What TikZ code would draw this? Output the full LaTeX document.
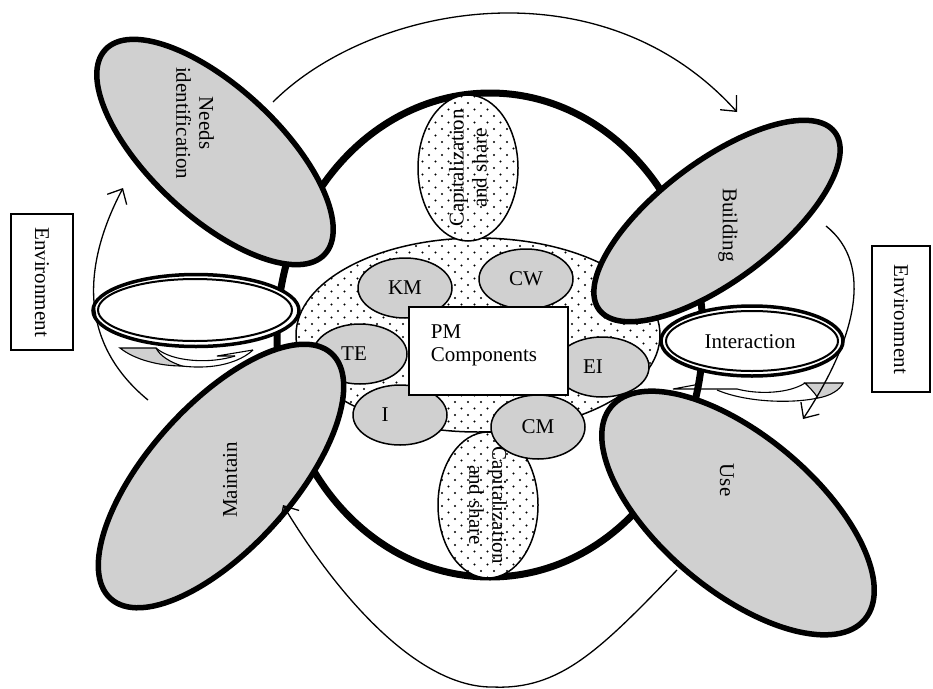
\documentclass[tikz,border=0pt]{standalone}
\usepackage{fontspec}
\setmainfont{Liberation Serif}
\usetikzlibrary{shapes.geometric,arrows.meta,patterns}
\definecolor{ellgray}{RGB}{208,208,208}
\pgfdeclarepatternformonly{bigdots}{\pgfqpoint{-1.5pt}{-1.5pt}}{\pgfqpoint{8pt}{8pt}}{\pgfqpoint{13pt}{13pt}}{%
  \pgfpathcircle{\pgfqpoint{0pt}{0pt}}{1.2pt}%
  \pgfpathcircle{\pgfqpoint{6.5pt}{6.5pt}}{1.2pt}%
  \pgfusepath{fill}}
\tikzset{
  bigell/.style={ellipse, draw, line width=5.5pt, fill=ellgray, inner sep=0pt},
  smallell/.style={ellipse, draw, line width=1.5pt, fill=ellgray, inner sep=0pt,
    minimum width=94pt, minimum height=60pt, font=\fontsize{21}{23}\selectfont},
  dotell/.style={ellipse, draw, line width=1.5pt, preaction={fill=white}, pattern=bigdots, inner sep=0pt},
  lbl/.style={font=\fontsize{21}{23}\selectfont, align=center, inner sep=0pt},
  envbox/.style={draw, line width=1.5pt, fill=white, font=\fontsize{21}{23}\selectfont, inner sep=0pt},
  conn/.style={line width=1.3pt, -{Straight Barb[length=12pt,width=22pt,line width=1.3pt]}},
  thin/.style={line width=1.1pt},
}
\begin{document}
\begin{tikzpicture}[x=1pt,y=-1pt]
\useasboundingbox (0,0) rectangle (933,688);

% central cycle
\node[ellipse, draw, line width=7pt, inner sep=0pt, minimum width=426pt, minimum height=484pt] (core) at (490,335) {};

% dotted ellipses
\node[dotell, minimum width=364pt, minimum height=194pt] (pm) at (478,335) {};
\node[dotell, minimum width=100pt, minimum height=146pt] (capT) at (468,168) {};
\node[lbl, rotate=90] (capTt) at (468,168) {Capitalization\\and share};
\node[dotell, minimum width=100pt, minimum height=146pt] (capB) at (488,505) {};
\node[lbl, rotate=-90] (capBt) at (488,505) {Capitalization\\and share};

% components
\node[smallell] (km) at (405,288) {KM};
\node[smallell] (cw) at (526,279) {CW};
\node[smallell] (te) at (360,354) {TE\hspace*{12pt}};
\node[smallell] (ei) at (602,367) {EI\hspace*{18pt}};
\node[smallell] (i) at (400,415) {I\hspace*{30pt}};
\node[smallell, minimum height=64pt] (cm) at (538,427) {CM};
\node[draw, line width=1.5pt, fill=white, minimum width=159pt, minimum height=88pt] (box) at (488.5,351) {};
\node[lbl, align=left] (boxt) at (484,345) {PM\\Components};

% rings
\node[ellipse, draw, line width=3.5pt, fill=white, inner sep=0pt, minimum width=206pt, minimum height=72pt] (ringL) at (196,310.5) {};
\node[ellipse, draw, line width=2pt, inner sep=0pt, minimum width=194pt, minimum height=62pt] (ringLi) at (195,310) {};
\node[ellipse, draw, line width=3.5pt, fill=white, inner sep=0pt, minimum width=182pt, minimum height=70pt] (ringR) at (752,341) {};
\node[ellipse, draw, line width=2pt, inner sep=0pt, minimum width=172pt, minimum height=60pt] (ringRi) at (752,341) {};
\node[lbl] (inter) at (750,342) {Interaction};

% rotating arrows under rings
\filldraw[fill=ellgray, thin] (120,348) -- (156,348) .. controls (160,356) and (170,362) .. (182,366) .. controls (160,366) and (135,360) .. cycle;
\draw[thin] (156,348) .. controls (172,362) and (210,364) .. (235,356);
\draw[thin] (182,366) .. controls (215,370) and (240,362) .. (253,350);
\draw[thin] (235,356) -- (217,356) -- (253,350);

\filldraw[fill=ellgray, thin] (805,383) -- (843,383) .. controls (840,390) and (830,396) .. (818,398) .. controls (814,392) and (809,387) .. cycle;
\draw[thin] (805,383) .. controls (790,393) and (760,395) .. (737,389);
\draw[thin] (818,398) .. controls (790,404) and (745,402) .. (717,390);
\draw[thin] (737,389) -- (673,389) -- (700,384);

% phases
\node[bigell, minimum width=300pt, minimum height=129pt, rotate=-43] (needs) at (215,152) {};
\node[bigell, minimum width=295pt, minimum height=119pt, rotate=37] (build) at (717,221) {};
\node[bigell, minimum width=331pt, minimum height=155pt, rotate=-40] (use) at (738,513) {};
\node[bigell, minimum width=330pt, minimum height=144pt, rotate=48] (maint) at (221,476) {};
\node[lbl, rotate=-90] (needst) at (195,123) {Needs\\identification};
\node[lbl, rotate=-90] (buildt) at (728,225) {Building};
\node[lbl, rotate=-90] (uset) at (727,480) {Use};
\node[lbl, rotate=90] (maintt) at (230,480) {Maintain};

% environment
\node[envbox, rotate=-90, minimum width=136pt, minimum height=62pt] (envL) at (42,282) {Environment};
\node[envbox, rotate=-90, minimum width=146pt, minimum height=58pt] (envR) at (901,319) {Environment};

% cycle arrows
\coordinate (nOut) at (273,102);
\coordinate (bIn) at (737,112);
\coordinate (bOut) at (826,226);
\coordinate (uIn) at (803,419);
\coordinate (uOut) at (677,570);
\coordinate (mIn) at (283,505);
\coordinate (mOut) at (148,400);
\coordinate (nIn) at (123,188);
\draw[conn] (nOut) .. controls (370,5) and (600,-40) .. (bIn);
\draw[conn] (bOut) .. controls (875,265) and (855,340) .. (uIn);
\draw[conn] (uOut) .. controls (600,650) and (560,690) .. (493,687) .. controls (420,688) and (340,600) .. (mIn);
\draw[conn] (mOut) .. controls (75,340) and (85,260) .. (nIn);
\end{tikzpicture}
\end{document}
